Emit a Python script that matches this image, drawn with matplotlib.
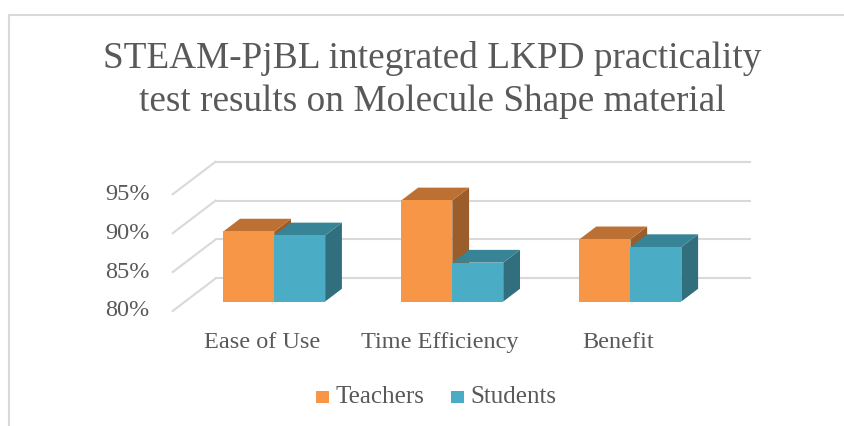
import matplotlib.pyplot as plt
from matplotlib.patches import Polygon, Rectangle
from matplotlib.lines import Line2D

# chart data
categories = ["Ease of Use", "Time Efficiency", "Benefit"]
series_names = ["Teachers", "Students"]
teachers = [89.0, 93.0, 88.0]
students = [88.5, 85.0, 87.0]
y_ticks = [80, 85, 90, 95]
y_labels = ["80%", "85%", "90%", "95%"]

front_colors = ["#F79646", "#4BACC6"]
top_colors = ["#BD7033", "#378496"]
side_colors = ["#9B5D2A", "#316E7E"]
grid_color = "#D9D9D9"
text_color = "#595959"
font = "Liberation Serif"

W, H = 845, 426
fig = plt.figure(figsize=(W / 100, H / 100), dpi=100)
ax = fig.add_axes([0, 0, 1, 1])
# front plane: x 0..3 -> px 172.7..707, y 80..95 -> px 311..194.3
ax.set_xlim(-0.9697, 3.775)
ax.set_ylim(65.22, 119.97)
ax.axis("off")

DX, DY = 0.2414, 4.2      # offset for full floor depth
d0, d1 = 0.29, 0.68       # bar depth range
w = 0.286                 # bar width

# walls / gridlines
for t in y_ticks:
    ax.plot([0, DX], [t, t + DY], color=grid_color, lw=1.5, zorder=1)
    ax.plot([DX, 3 + DX], [t + DY, t + DY], color=grid_color, lw=1.5, zorder=1)


def draw_bar(x_left, value, k, z):
    base = y_ticks[0] + d0 * DY
    xl = x_left + d0 * DX
    xr = xl + w
    top = value + d0 * DY
    ddx, ddy = (d1 - d0) * DX, (d1 - d0) * DY
    ax.add_patch(Polygon([(xr, base), (xr + ddx, base + ddy), (xr + ddx, top + ddy), (xr, top)],
                         closed=True, facecolor=side_colors[k], edgecolor="none", zorder=z))
    ax.add_patch(Polygon([(xl, top), (xr, top), (xr + ddx, top + ddy), (xl + ddx, top + ddy)],
                         closed=True, facecolor=top_colors[k], edgecolor="none", zorder=z))
    ax.bar(xl, value - y_ticks[0], bottom=base, width=w, align="edge",
           color=front_colors[k], zorder=z + 0.5)


z = 2
for i in range(len(categories)):
    draw_bar(i + 0.5 - w, teachers[i], 0, z)
    draw_bar(i + 0.5, students[i], 1, z + 1)
    z += 2

# y tick labels
for t, lab in zip(y_ticks, y_labels):
    ax.text(-0.13, t, lab, ha="right", va="center", fontsize=17.5, color=text_color, family=font)

# category labels
for i, c in enumerate(categories):
    ax.text(i + 0.5, 76.0, c, ha="center", va="center", fontsize=17.5, color=text_color, family=font)

# title
fig.text(432 / W, 1 - 59 / H, "STEAM-PjBL integrated LKPD practicality", ha="center", va="center",
         fontsize=26.8, color=text_color, family=font)
fig.text(432 / W, 1 - 102 / H, "test results on Molecule Shape material", ha="center", va="center",
         fontsize=26.8, color=text_color, family=font)

# legend
leg_x = [316, 451]
for k, name in enumerate(series_names):
    fig.add_artist(Rectangle((leg_x[k] / W, 1 - 403 / H), 13 / W, 12 / H,
                             transform=fig.transFigure, facecolor=front_colors[k], edgecolor="none"))
    fig.text((leg_x[k] + 19) / W, 1 - 397 / H, name, ha="left", va="center",
             fontsize=18, color=text_color, family=font)

# chart border (cropped on right and bottom)
fig.add_artist(Line2D([9.5 / W, 1], [1 - 14.5 / H, 1 - 14.5 / H], transform=fig.transFigure,
                      color=grid_color, lw=1.5))
fig.add_artist(Line2D([9.5 / W, 9.5 / W], [1 - 14.5 / H, 0], transform=fig.transFigure,
                      color=grid_color, lw=1.5))

fig.savefig("out.png", dpi=100)
